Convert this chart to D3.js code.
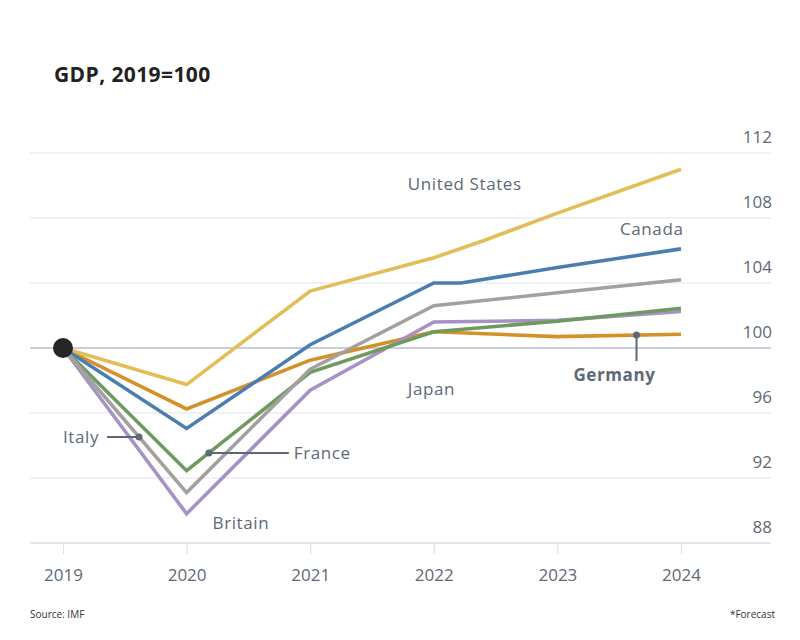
<!DOCTYPE html>
<html>
<head>
<meta charset="utf-8">
<script src="https://cdn.jsdelivr.net/npm/d3@7"></script>
<style>
  body { margin: 0; background: #fff; }
  svg { display: block; font-family: "Open Sans", "DejaVu Sans", sans-serif; }
</style>
</head>
<body>
<div id="chart"></div>
<script>
(() => {
const years = [2019, 2020, 2021, 2022, 2023, 2024];
const yTicks = [88, 92, 96, 100, 104, 108, 112];

// [year, index] pairs, some series have an extra mid-year point
const unitedStates = [[2019, 100], [2020, 97.75], [2021, 103.5], [2022, 105.55], [2022.4, 106.6], [2023, 108.3], [2024, 111.0]];
const canada = [[2019, 100], [2020, 95.05], [2021, 100.2], [2022, 104.0], [2022.22, 104.0], [2023, 104.95], [2024, 106.1]];
const italy = [[2019, 100], [2020, 91.1], [2021, 98.7], [2022, 102.6], [2023, 103.4], [2024, 104.2]];
const france = [[2019, 100], [2020, 92.45], [2021, 98.5], [2022, 101.0], [2023, 101.65], [2024, 102.45]];
const britain = [[2019, 100], [2020, 89.8], [2021, 97.4], [2022, 101.6], [2023, 101.7], [2024, 102.25]];
const germany = [[2019, 100], [2020, 96.25], [2021, 99.25], [2022, 101.0], [2023, 100.7], [2024, 100.85]];

const series = [
    { name: 'Germany', values: germany, color: '#d4912a' },
    { name: 'United States', values: unitedStates, color: '#e2bd58' },
    { name: 'Canada', values: canada, color: '#4a7eb0' },
    { name: 'Britain', values: britain, color: '#a692c6' },
    { name: 'France', values: france, color: '#6f9a5f' },
    { name: 'Italy', values: italy, color: '#a3a1a0' }
];

const width = 800;
const height = 640;
const textColor = '#5d6975';

const svg = d3.select('#chart').append('svg')
    .attr('width', width)
    .attr('height', height);

const x = d3.scaleLinear().domain([2019, 2024]).range([63, 681]);
const y = d3.scaleLinear().domain([88, 112]).range([543, 153]);

// title
svg.append('text')
    .attr('x', 54).attr('y', 82)
    .attr('font-size', 21).attr('font-weight', 700)
    .attr('letter-spacing', 0.4)
    .attr('fill', '#222')
    .text('GDP, 2019=100');

// horizontal gridlines + right labels
const grid = svg.append('g');
grid.selectAll('line')
    .data(yTicks)
    .enter().append('line')
    .attr('x1', 30).attr('x2', 771)
    .attr('y1', d => y(d)).attr('y2', d => y(d))
    .attr('stroke', d => (d === 100 || d === 88) ? '#c9ced8' : '#e1e4ea')
    .attr('stroke-width', d => d === 100 ? 2 : 1.2);

grid.selectAll('text')
    .data(yTicks)
    .enter().append('text')
    .attr('x', 772).attr('y', d => y(d) - 10)
    .attr('text-anchor', 'end')
    .attr('font-size', 17)
    .attr('fill', textColor)
    .text(d => d);

// bottom axis
const xAxis = d3.axisBottom(x).tickValues(years).tickFormat(d3.format('d')).tickSize(11).tickPadding(15);
const gx = svg.append('g')
    .attr('transform', `translate(0,${y(88)})`)
    .call(xAxis);
gx.select('.domain').remove();
gx.selectAll('.tick line').attr('stroke', '#dfe2e8').attr('stroke-width', 1.2);
gx.selectAll('.tick text')
    .attr('font-size', 17)
    .attr('font-family', '"Open Sans", sans-serif')
    .attr('fill', textColor);

// lines
const line = d3.line().x(d => x(d[0])).y(d => y(d[1]));
svg.append('g').selectAll('path')
    .data(series)
    .enter().append('path')
    .attr('d', d => line(d.values))
    .attr('fill', 'none')
    .attr('stroke', d => d.color)
    .attr('stroke-width', 3.6)
    .attr('stroke-linejoin', 'miter');

// start dot
svg.append('circle')
    .attr('cx', x(2019)).attr('cy', y(100))
    .attr('r', 10)
    .attr('fill', '#262626');

// labels
function valueAt(values, yr) {
    for (let i = 1; i < values.length; i++) {
        const a = values[i - 1], b = values[i];
        if (yr <= b[0]) return a[1] + (b[1] - a[1]) * (yr - a[0]) / (b[0] - a[0]);
    }
    return values[values.length - 1][1];
}

const plainLabels = [
    { text: 'United States', year: 2021.79, value: 110.12, anchor: 'start' },
    { text: 'Canada', year: 2024.02, value: 107.3, anchor: 'end' },
    { text: 'Japan', year: 2021.79, value: 97.5, anchor: 'start' },
    { text: 'Britain', year: 2020.21, value: 89.25, anchor: 'start' }
];
svg.append('g').selectAll('text')
    .data(plainLabels)
    .enter().append('text')
    .attr('x', d => x(d.year))
    .attr('y', d => y(d.value))
    .attr('dy', '0.35em')
    .attr('text-anchor', d => d.anchor)
    .attr('font-size', 17)
    .attr('letter-spacing', 0.6)
    .attr('fill', textColor)
    .text(d => d.text);

// pointer labels
const pointers = [
    { text: 'Italy', values: italy, year: 2019.615, dir: 'left', len: 32, bold: false },
    { text: 'France', values: france, year: 2020.18, dir: 'right', len: 80, bold: false },
    { text: 'Germany', values: germany, year: 2023.64, dir: 'down', len: 26, bold: true }
];
const pg = svg.append('g');
pointers.forEach(p => {
    const px = x(p.year), py = y(valueAt(p.values, p.year));
    let x2 = px, y2 = py, tx, ty, anchor;
    if (p.dir === 'left') { x2 = px - p.len; tx = x2 - 8; ty = py; anchor = 'end'; }
    if (p.dir === 'right') { x2 = px + p.len; tx = x2 + 5; ty = py; anchor = 'start'; }
    if (p.dir === 'down') { y2 = py + p.len; tx = px - 22; ty = y2 + 14; anchor = 'middle'; }
    pg.append('line')
        .attr('x1', px).attr('y1', py).attr('x2', x2).attr('y2', y2)
        .attr('stroke', textColor).attr('stroke-width', 2);
    pg.append('circle')
        .attr('cx', px).attr('cy', py).attr('r', 3.5)
        .attr('fill', textColor);
    pg.append('text')
        .attr('x', tx).attr('y', ty).attr('dy', '0.35em')
        .attr('text-anchor', anchor)
        .attr('font-size', 17)
        .attr('font-weight', p.bold ? 700 : 400)
        .attr('letter-spacing', 0.6)
        .attr('fill', textColor)
        .text(p.text);
});

// footer
svg.append('text')
    .attr('x', 30).attr('y', 618)
    .attr('font-size', 10).attr('fill', '#333')
    .text('Source: IMF');
svg.append('text')
    .attr('x', 775).attr('y', 618)
    .attr('text-anchor', 'end')
    .attr('font-size', 10).attr('fill', '#333')
    .text('*Forecast');
})();
</script>
</body>
</html>
